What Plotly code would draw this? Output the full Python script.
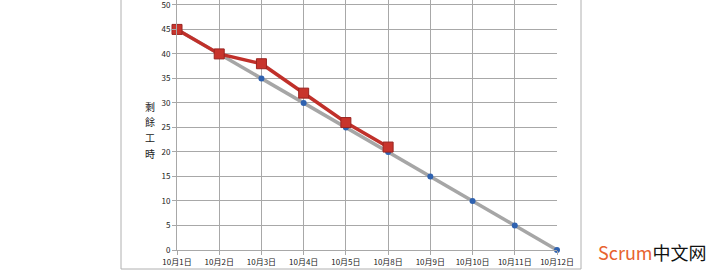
import plotly.graph_objects as go

categories = ["10月1日", "10月2日", "10月3日", "10月4日", "10月5日",
              "10月8日", "10月9日", "10月10日", "10月11日", "10月12日"]
ideal_hours = [45, 40, 35, 30, 25, 20, 15, 10, 5, 0]
actual_hours = [45, 40, 38, 32, 26, 21]
y_ticks = [0, 5, 10, 15, 20, 25, 30, 35, 40, 45, 50]
y_title_chars = ["剩", "餘", "工", "時"]

fig = go.Figure()
fig.add_trace(go.Scatter(
    x=categories, y=ideal_hours, mode="lines+markers", cliponaxis=False,
    line=dict(color="#a6a6a6", width=3.5),
    marker=dict(color="#2f62b0", size=6, symbol="circle"),
    showlegend=False))
fig.add_trace(go.Scatter(
    x=categories[:len(actual_hours)], y=actual_hours, mode="lines+markers",
    cliponaxis=False,
    line=dict(color="#c0302a", width=3.5),
    marker=dict(color="#c8342c", size=10, symbol="square",
                line=dict(color="#9a2420", width=1)),
    showlegend=False))

font = "Noto Sans CJK SC, sans-serif"
W = 380.0
H = 250.0
annotations = []
for i, ch in enumerate(y_title_chars):
    ypix = 106 + i * 15.7
    annotations.append(dict(
        text=ch, xref="paper", yref="paper", x=-27/W, y=(250 - ypix)/H,
        showarrow=False, xanchor="center", yanchor="middle",
        font=dict(size=10, color="#222", family=font)))
annotations.append(dict(
    text="<span style='color:#e8632f'>Scrum</span>中文网",
    xref="paper", yref="paper", x=419/W, y=-2/H,
    xanchor="left", yanchor="middle", showarrow=False,
    font=dict(size=18, color="#111", family=font)))

fig.update_layout(
    width=720, height=270,
    margin=dict(l=177, r=163, t=0, b=20, autoexpand=False),
    paper_bgcolor="white", plot_bgcolor="white",
    font=dict(family=font, size=8, color="#222"),
    xaxis=dict(type="category", categoryorder="array", categoryarray=categories,
               range=[0, 9], showgrid=True, gridcolor="#a8a8a8", gridwidth=1,
               showline=True, linecolor="#a8a8a8", ticks="outside", ticklen=4,
               tickcolor="#a8a8a8", tickfont=dict(size=8), zeroline=False,
               ticklabeloverflow="allow"),
    yaxis=dict(range=[0, 51], tickmode="array", tickvals=y_ticks,
               showgrid=True, gridcolor="#a8a8a8",
               gridwidth=1, showline=True, linecolor="#a8a8a8", ticks="outside",
               ticklen=4, tickcolor="#a8a8a8", tickfont=dict(size=8), zeroline=False,
               ticklabeloverflow="allow"),
    shapes=[dict(type="rect", xref="paper", yref="paper",
                 x0=-56/W, x1=404/W, y0=-19/H, y1=1.05,
                 line=dict(color="#b0b0b0", width=1), fillcolor="rgba(0,0,0,0)",
                 layer="below")],
    annotations=annotations,
)

fig.write_html("out.html")
